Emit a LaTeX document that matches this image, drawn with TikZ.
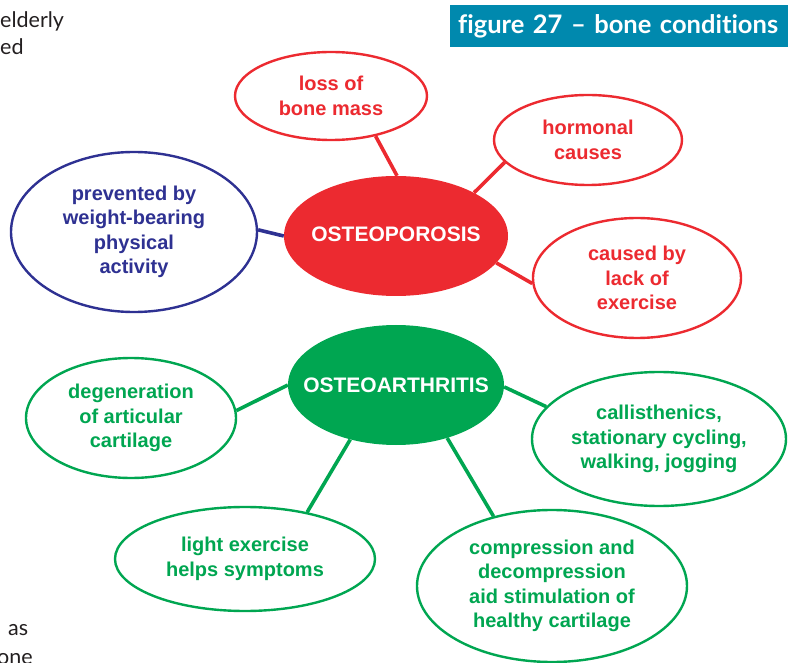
\documentclass[tikz,border=0pt]{standalone}
\usepackage{fontspec}
\setmainfont{Liberation Sans}
\newfontfamily\gillfont[Ligatures=NoCommon]{Lato}
\usepackage{tikz}
\usetikzlibrary{shapes.geometric,positioning}
\definecolor{osred}{HTML}{EC2A30}
\definecolor{oagreen}{HTML}{00A651}
\definecolor{pvblue}{HTML}{2E3192}
\definecolor{figteal}{HTML}{0089AE}
\definecolor{pagetext}{HTML}{231F20}
\newcommand{\hubtext}[2][0pt]{\raisebox{#1}{\makebox[0pt][c]{#2}}}

\begin{document}
\begin{tikzpicture}[x=1pt,y=-1pt,
  bubble/.style={ellipse,draw,fill=white,line width=2.4pt,inner sep=0pt,
    align=center,font=\bfseries\fontsize{20}{24.5}\selectfont},
  redbubble/.style={bubble,draw=osred,text=osred},
  greenbubble/.style={bubble,draw=oagreen,text=oagreen},
  bluebubble/.style={bubble,draw=pvblue,text=pvblue},
  hub/.style={ellipse,inner sep=0pt,text=white,
    font=\bfseries\fontsize{21}{24}\selectfont},
  link/.style={line width=3.6pt},
  figtitle/.style={fill=figteal,anchor=north west,minimum width=338pt,
    minimum height=42pt,text width=322pt,inner xsep=8pt,inner ysep=0pt,
    align=left,text=white,font=\gillfont\bfseries\fontsize{25.5}{26}\selectfont},
  pagefrag/.style={anchor=base west,inner sep=0pt,text=pagetext,
    font=\gillfont\fontsize{21.5}{24}\selectfont}]
\useasboundingbox (0,0) rectangle (788,663);
\clip (0,0) rectangle (788,663);
\node[pagefrag] (elderly) at (0,28) {elderly};
\node[pagefrag] (ed) at (0,55) {ed};
\node[pagefrag] (as) at (8,635) {as};
\node[pagefrag] (one) at (-3,664) {one};
\node[figtitle] (fig) at (450,5) {figure 27 \textendash\ bone conditions};
\node[hub,fill=osred,minimum width=224pt,minimum height=120pt] (osteo) at (396,236) {\hubtext[4pt]{OSTEOPOROSIS}};
\node[hub,fill=oagreen,minimum width=216pt,minimum height=120pt] (arthr) at (396,385) {\hubtext{OSTEOARTHRITIS}};
\node[redbubble,minimum width=192pt,minimum height=88pt] (loss) at (331,96) {loss of\\bone mass};
\node[redbubble,minimum width=188pt,minimum height=90pt] (hormonal) at (588,140) {hormonal\\causes};
\node[redbubble,minimum width=208pt,minimum height=120pt] (caused) at (637,278) {caused by\\lack of\\exercise};
\node[bluebubble,minimum width=246pt,minimum height=160pt] (prevented) at (134,232) {prevented by\\weight-bearing\\physical\\activity};
\node[greenbubble,minimum width=210pt,minimum height=120pt] (degen) at (131,418) {degeneration\\of articular\\cartilage};
\node[greenbubble,minimum width=254pt,minimum height=134pt] (callis) at (659,439) {callisthenics,\\stationary cycling,\\walking, jogging};
\node[greenbubble,minimum width=260pt,minimum height=104pt] (light) at (245,559) {light exercise\\helps symptoms};
\node[greenbubble,minimum width=270pt,minimum height=152pt] (compress) at (552,586) {compression and\\decompression\\aid stimulation of\\healthy cartilage};
\draw[link,osred] (loss.-42) -- (osteo.89);
\draw[link,osred] (hormonal.195) -- (osteo.29);
\draw[link,osred] (caused.183) -- (osteo.-15);
\draw[link,pvblue] (prevented.1) -- (osteo.180);
\draw[link,oagreen] (degen.4) -- (arthr.180);
\draw[link,oagreen] (callis.164) -- (arthr.-1);
\draw[link,oagreen] (light.37) -- (arthr.230);
\draw[link,oagreen] (compress.130) -- (arthr.-46);
\end{tikzpicture}
\end{document}
